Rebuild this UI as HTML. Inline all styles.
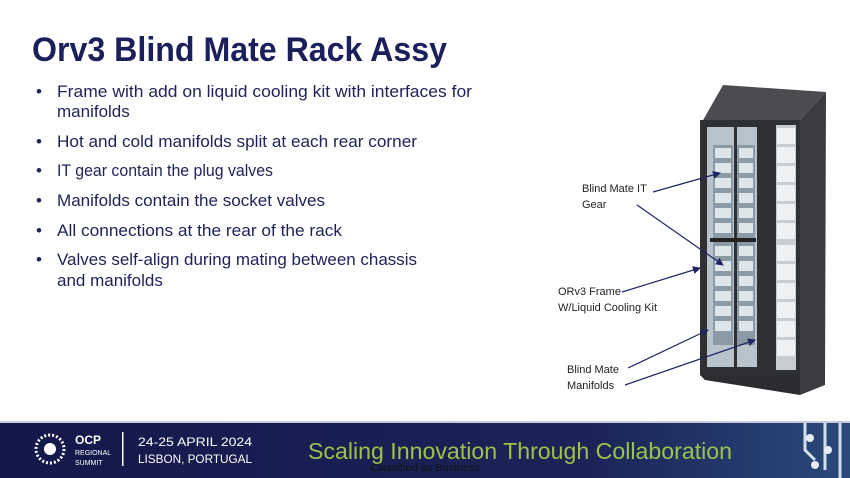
<!DOCTYPE html>
<html><head><meta charset="utf-8"><style>
html,body{margin:0;padding:0;background:#fff;width:850px;height:478px;overflow:hidden}
svg{display:block}
text{font-family:"Liberation Sans",sans-serif}
</style></head><body>
<svg width="850" height="478" viewBox="0 0 850 478" xmlns="http://www.w3.org/2000/svg">
<defs>
<marker id="ah" markerWidth="8" markerHeight="8" refX="7" refY="4" orient="auto" markerUnits="userSpaceOnUse"><path d="M0,0 L8,4 L0,8 z" fill="#1f2560"/></marker>
<linearGradient id="ft" x1="0" x2="1"><stop offset="0" stop-color="#14184a"/><stop offset="0.7" stop-color="#1b2458"/><stop offset="1" stop-color="#2a4a7a"/></linearGradient>
</defs>
<rect width="850" height="478" fill="#fff"/>
<text x="32" y="61" font-size="34" font-weight="bold" fill="#1b1f5c" textLength="415" lengthAdjust="spacingAndGlyphs">Orv3 Blind Mate Rack Assy</text>
<g font-size="17" fill="#1e2258">
<text x="36" y="97">•</text><text x="57" y="97" textLength="415" lengthAdjust="spacingAndGlyphs">Frame with add on liquid cooling kit with interfaces for</text>
<text x="57" y="117">manifolds</text>
<text x="36" y="147">•</text><text x="57" y="147" textLength="360" lengthAdjust="spacingAndGlyphs">Hot and cold manifolds split at each rear corner</text>
<text x="36" y="176">•</text><text x="57" y="176" textLength="216" lengthAdjust="spacingAndGlyphs">IT gear contain the plug valves</text>
<text x="36" y="206">•</text><text x="57" y="206" textLength="268" lengthAdjust="spacingAndGlyphs">Manifolds contain the socket valves</text>
<text x="36" y="236">•</text><text x="57" y="236" textLength="285" lengthAdjust="spacingAndGlyphs">All connections at the rear of the rack</text>
<text x="36" y="265">•</text><text x="57" y="265" textLength="360" lengthAdjust="spacingAndGlyphs">Valves self-align during mating between chassis</text>
<text x="57" y="286">and manifolds</text>
</g>
<!-- rack -->
<polygon points="702,122 723,85 826,92 800,120" fill="#4a4c50"/>
<polygon points="800,120 826,92 825,385 800,395" fill="#3a3c40"/>
<rect x="700" y="120" width="100" height="255" fill="#2e3034"/>
<polygon points="700,375 800,375 800,395 705,380" fill="#2a2c30"/>
<rect x="707" y="127" width="50" height="240" fill="#b9c3cc"/>
<rect x="713" y="145" width="20" height="200" fill="#8c9aa6"/>
<rect x="737" y="145" width="18" height="200" fill="#8c9aa6"/>
<g fill="#dfe6ea">
<rect x="715" y="148" width="16" height="10"/><rect x="715" y="163" width="16" height="10"/><rect x="715" y="178" width="16" height="10"/><rect x="715" y="193" width="16" height="10"/><rect x="715" y="208" width="16" height="10"/><rect x="715" y="223" width="16" height="10"/>
<rect x="715" y="246" width="16" height="10"/><rect x="715" y="261" width="16" height="10"/><rect x="715" y="276" width="16" height="10"/><rect x="715" y="291" width="16" height="10"/><rect x="715" y="306" width="16" height="10"/><rect x="715" y="321" width="16" height="10"/>
<rect x="739" y="148" width="14" height="10"/><rect x="739" y="163" width="14" height="10"/><rect x="739" y="178" width="14" height="10"/><rect x="739" y="193" width="14" height="10"/><rect x="739" y="208" width="14" height="10"/><rect x="739" y="223" width="14" height="10"/>
<rect x="739" y="246" width="14" height="10"/><rect x="739" y="261" width="14" height="10"/><rect x="739" y="276" width="14" height="10"/><rect x="739" y="291" width="14" height="10"/><rect x="739" y="306" width="14" height="10"/><rect x="739" y="321" width="14" height="10"/>
</g>
<rect x="734" y="127" width="3" height="240" fill="#2e3034"/>
<rect x="710" y="238" width="46" height="4" fill="#222"/>
<rect x="776" y="125" width="20" height="245" fill="#c9ccd0"/>
<g fill="#eef0f2">
<rect x="777" y="128" width="18" height="16"/><rect x="777" y="147" width="18" height="16"/><rect x="777" y="166" width="18" height="16"/><rect x="777" y="185" width="18" height="16"/><rect x="777" y="204" width="18" height="16"/><rect x="777" y="223" width="18" height="16"/>
<rect x="777" y="245" width="18" height="16"/><rect x="777" y="264" width="18" height="16"/><rect x="777" y="283" width="18" height="16"/><rect x="777" y="302" width="18" height="16"/><rect x="777" y="321" width="18" height="16"/><rect x="777" y="340" width="18" height="16"/>
</g>
<!-- labels -->
<g font-size="11" fill="#222">
<text x="582" y="192">Blind Mate IT</text><text x="582" y="208">Gear</text>
<text x="558" y="295">ORv3 Frame</text><text x="558" y="311">W/Liquid Cooling Kit</text>
<text x="567" y="373">Blind Mate</text><text x="567" y="389">Manifolds</text>
</g>
<g stroke="#1f2560" stroke-width="1.2" marker-end="url(#ah)">
<line x1="653" y1="192" x2="720" y2="173"/>
<line x1="637" y1="205" x2="723" y2="265"/>
<line x1="622" y1="292" x2="700" y2="268"/>
<line x1="628" y1="368" x2="708" y2="330"/>
<line x1="625" y1="385" x2="755" y2="340"/>
</g>
<!-- footer -->
<rect x="0" y="421" width="850" height="57" fill="url(#ft)"/>
<rect x="0" y="421" width="850" height="2" fill="#c8ccd8"/>
<g stroke="#cfe0f0" stroke-width="3" fill="none">
<path d="M805,423 V450 L815,460"/><path d="M825,423 V470"/><path d="M840,423 V478"/>
</g>
<circle cx="810" cy="438" r="4" fill="#e8eef5"/><circle cx="828" cy="450" r="4" fill="#e8eef5"/><circle cx="815" cy="465" r="4" fill="#e8eef5"/>
<circle cx="50" cy="449" r="14" fill="none" stroke="#fff" stroke-width="3" stroke-dasharray="2 2"/>
<circle cx="50" cy="449" r="6" fill="#fff"/>
<text x="75" y="444" font-size="12" font-weight="bold" fill="#fff">OCP</text>
<text x="75" y="455" font-size="7" fill="#fff">REGIONAL</text>
<text x="75" y="465" font-size="7" fill="#fff">SUMMIT</text>
<rect x="122" y="432" width="1.5" height="34" fill="#fff"/>
<text x="138" y="446" font-size="12" fill="#fff" textLength="114" lengthAdjust="spacingAndGlyphs">24-25 APRIL 2024</text>
<text x="138" y="463" font-size="12" fill="#fff" textLength="114" lengthAdjust="spacingAndGlyphs">LISBON, PORTUGAL</text>
<text x="308" y="459" font-size="23" fill="#9bc34a" textLength="424" lengthAdjust="spacingAndGlyphs">Scaling Innovation Through Collaboration</text>
<text x="370" y="471" font-size="10" fill="#111" textLength="110" lengthAdjust="spacingAndGlyphs">Classified as Business</text>
</svg>
</body></html>
